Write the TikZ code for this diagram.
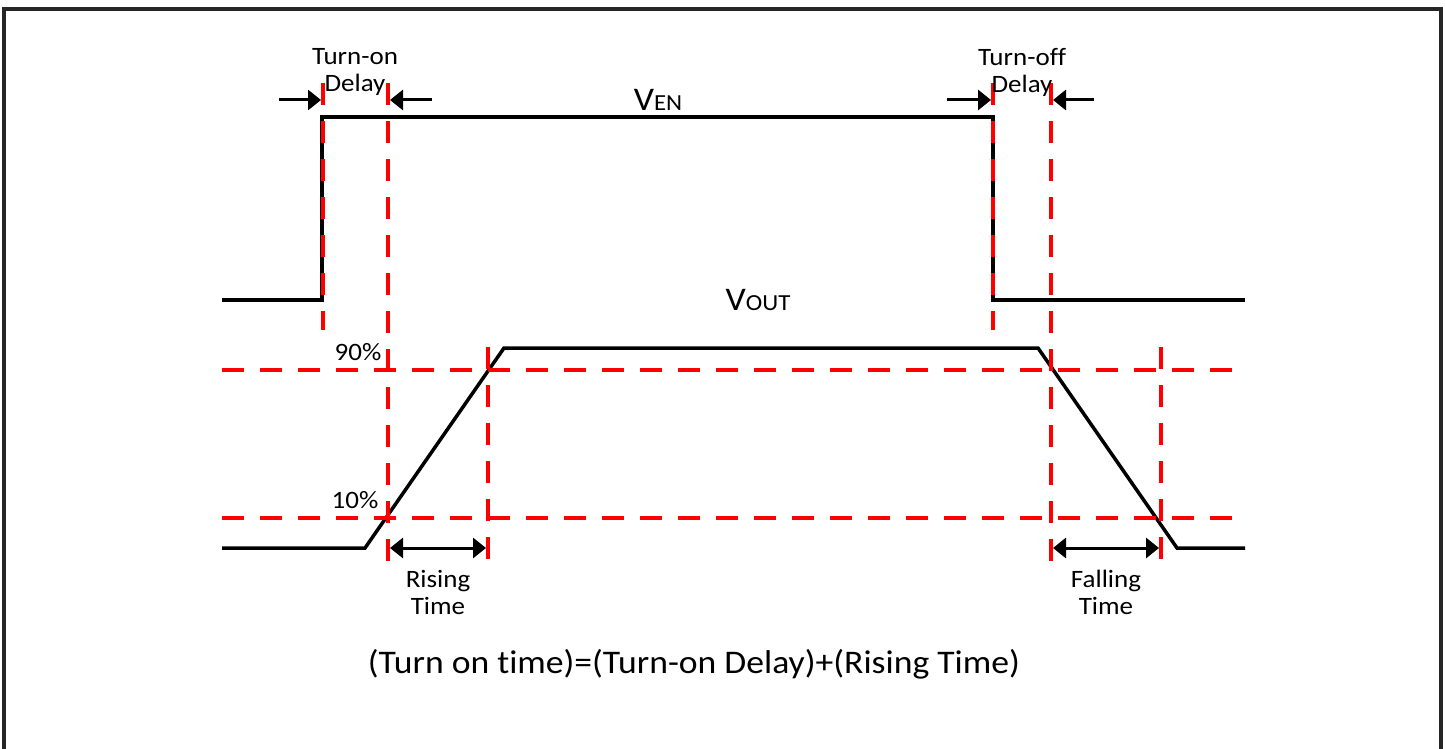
\documentclass[tikz,border=0pt]{standalone}
\usepackage{fontspec}
\setmainfont{Carlito}[FakeStretch=1.08, Ligatures={NoCommon, NoDiscretionary}]
\usetikzlibrary{arrows.meta, positioning, calc}

\begin{document}
\begin{tikzpicture}[x=1pt, y=-1pt, font=\fontsize{25}{27}\selectfont]
	\tikzstyle{every node} = [inner sep=0pt, align=center]
	% Setup the styles for the waveforms, the guides and the spans
	\tikzset{wave/.style={line width=3.5pt},
			 guide/.style={draw=red, line width=3.5pt, dash pattern=on 22pt off 16pt},
			 span/.style={line width=3pt, >={Triangle[length=13pt,width=20pt]}}}
	\useasboundingbox (0,0) rectangle (1445,749);
	% Frame
	\draw[line width=3.5pt, draw=black!85] (4,760) -- (4,9) -- (1441,9) -- (1441,760);
	% Enable signal
	\coordinate (en0) at (222,300);
	\coordinate (enup) at (322,300);
	\coordinate (enhi) at (322,117);
	\coordinate (endn) at (993,117);
	\coordinate (enlo) at (993,300);
	\coordinate (en1) at (1245,300);
	\draw[wave] (en0) -- (enup) -- (enhi) -- (endn) -- (enlo) -- (en1);
	% Output signal
	\coordinate (out0) at (222,548);
	\coordinate (outa) at (365,548);
	\coordinate (outb) at (504,348);
	\coordinate (outc) at (1038,348);
	\coordinate (outd) at (1177,548);
	\coordinate (out1) at (1245,548);
	\draw[wave] (out0) -- (outa) -- (outb) -- (outc) -- (outd) -- (out1);
	% Draw the guides
	\draw[guide] (323,83) -- (323,330);
	\draw[guide] (388,83) -- (388,563);
	\draw[guide] (993,83) -- (993,330);
	\draw[guide] (1051,83) -- (1051,563);
	\draw[guide] (488,347) -- (488,563);
	\draw[guide] (1161,347) -- (1161,563);
	\draw[guide] (222,370) -- (1245,370);
	\draw[guide] (222,518) -- (1245,518);
	% Draw the spans
	\coordinate (onL) at (279,100);
	\coordinate (onA) at (321,100);
	\coordinate (onR) at (432,100);
	\coordinate (onB) at (390,100);
	\coordinate (offL) at (947,100);
	\coordinate (offA) at (991,100);
	\coordinate (offR) at (1094,100);
	\coordinate (offB) at (1053,100);
	\coordinate (riseA) at (390,548);
	\coordinate (riseB) at (486,548);
	\coordinate (fallA) at (1053,548);
	\coordinate (fallB) at (1159,548);
	\draw[span, ->] (onL) -- (onA);
	\draw[span, ->] (onR) -- (onB);
	\draw[span, ->] (offL) -- (offA);
	\draw[span, ->] (offR) -- (offB);
	\draw[span, <->] (riseA) -- (riseB);
	\draw[span, <->] (fallA) -- (fallB);
	% Labels
	\node at (355,72)   (ondelay)  {Turn-on\\Delay};
	\node at (1022,72)  (offdelay) {Turn-off\\Delay};
	\node at (658,100)  (ven)  {\fontsize{33}{33}\selectfont V\fontsize{23}{23}\selectfont EN};
	\node at (758,300)  (vout) {\fontsize{33}{33}\selectfont V\fontsize{23}{23}\selectfont OUT};
	\node at (358,352)  (ninety) {90\%};
	\node at (355,500)  (ten)    {10\%};
	\node[below=22pt of $(riseA)!0.5!(riseB)$] (rising)  {Rising\\Time};
	\node[below=22pt of $(fallA)!0.5!(fallB)$] (falling) {Falling\\Time};
	\node at (694,664) (formula) {\fontsize{33}{38}\selectfont (Turn on time)=(Turn-on Delay)+(Rising Time)};
\end{tikzpicture}
\end{document}
